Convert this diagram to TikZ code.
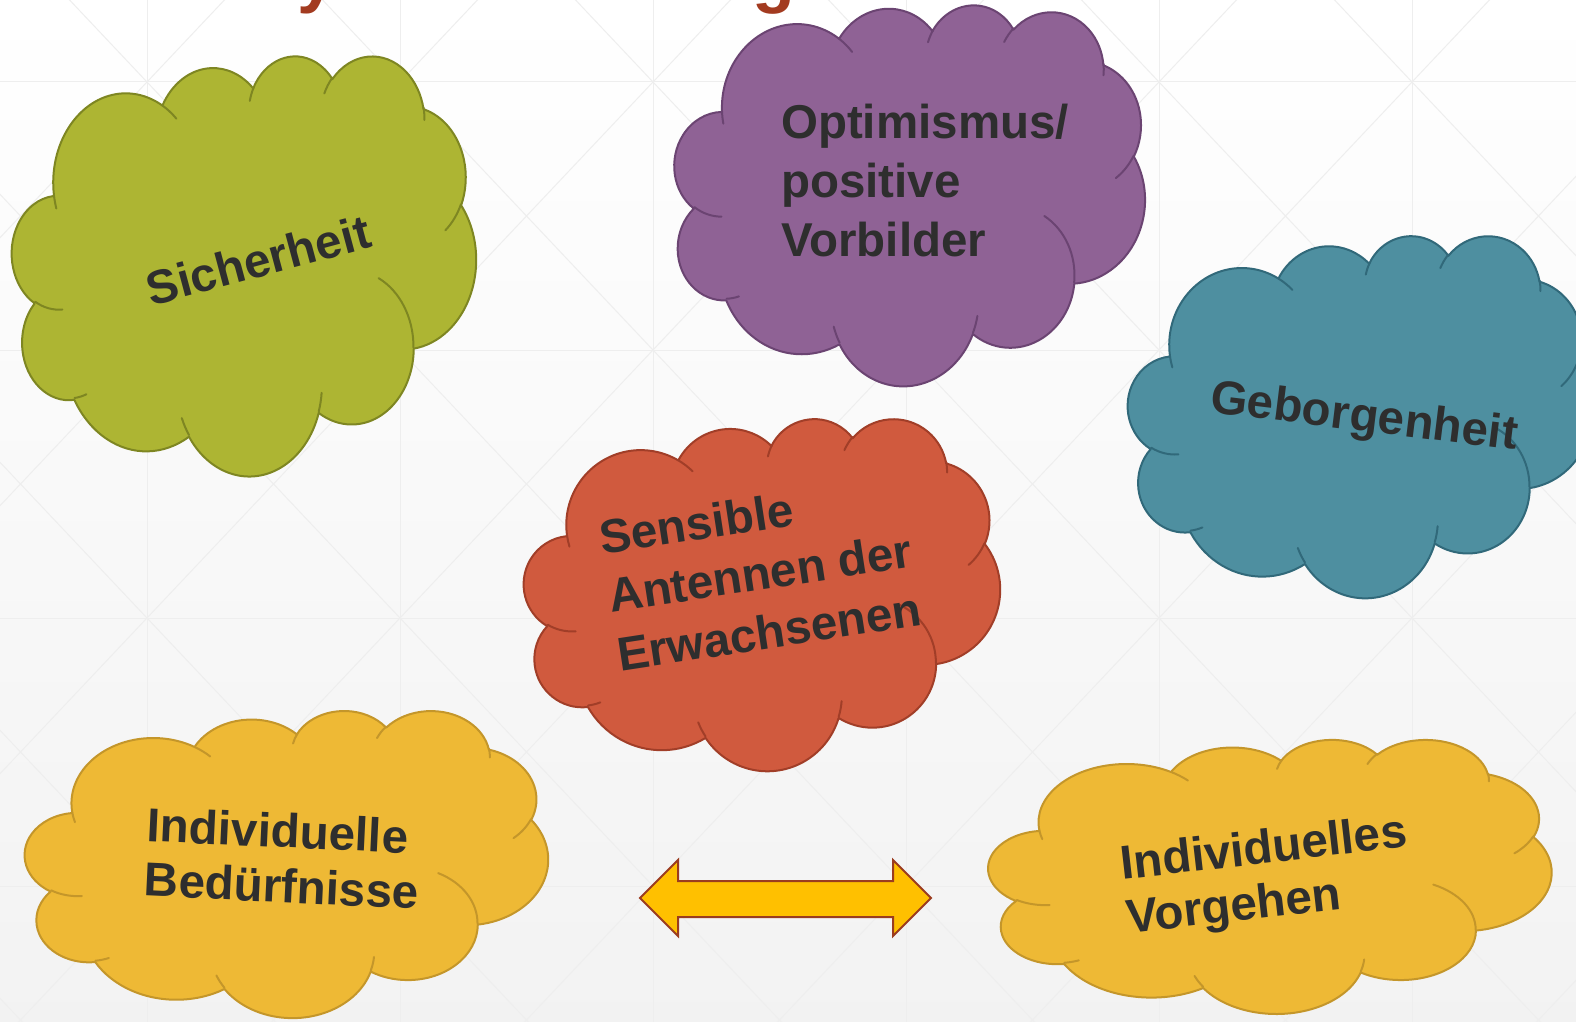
\documentclass[tikz,border=0pt]{standalone}
\usepackage{fontspec}
\setmainfont{Liberation Sans}
\definecolor{txtc}{HTML}{2E2E2E}
\definecolor{gridc}{HTML}{EEEEEE}
\definecolor{titc}{HTML}{A33B20}
\definecolor{grF}{HTML}{ADB533}\definecolor{grD}{HTML}{7E8622}
\definecolor{puF}{HTML}{8F6295}\definecolor{puD}{HTML}{6B4472}
\definecolor{teF}{HTML}{4E8FA0}\definecolor{teD}{HTML}{31697A}
\definecolor{reF}{HTML}{D05A3E}\definecolor{reD}{HTML}{A13E28}
\definecolor{yeF}{HTML}{EEB935}\definecolor{yeD}{HTML}{C4962A}
\definecolor{arF}{HTML}{FFC000}\definecolor{arD}{HTML}{9B3C1F}
% OOXML arcTo (visual angles) -> parametric angles
\newcommand\ooang[6]{%
  \pgfmathsetmacro#1{atan2((#3)*sin(#5),(#4)*cos(#5))}%
  \pgfmathsetmacro\ootmp{atan2((#3)*sin((#5)+(#6)),(#4)*cos((#5)+(#6)))}%
  \pgfmathsetmacro#2{#1+mod(\ootmp-(#1)+720,360)}%
}
\ooang\oAs\oAe{67.53}{91.90}{-190.4875}{123.7805}
\ooang\oBs\oBe{53.33}{72.67}{-144.1024}{89.9452}
\ooang\oCs\oCe{43.65}{59.45}{-145.8079}{99.7230}
\ooang\oDs\oDe{48.57}{65.95}{-130.9861}{117.2417}
\ooang\oEs\oEe{53.33}{72.73}{-78.7089}{109.0269}
\ooang\oFs\oFe{67.75}{92.20}{-46.2673}{130.2690}
\ooang\oGs\oGe{57.85}{78.67}{0.6250}{114.0333}
\ooang\oHs\oHe{67.52}{92.15}{22.4516}{115.1726}
\ooang\oIs\oIe{77.20}{105.43}{66.2426}{75.7110}
\ooang\oJs\oJe{43.60}{59.18}{-274.9421}{146.7356}
\ooang\oKs\oKe{43.45}{59.45}{-246.8285}{152.5189}
\ooang\iAs\iAe{43.45}{59.45}{86.7420}{26.4295}
\ooang\iBs\iBe{43.60}{59.18}{73.6105}{11.4475}
\ooang\iCs\iCe{67.52}{92.15}{137.6242}{14.0811}
\ooang\iDs\iDe{67.52}{92.15}{6.4533}{15.9984}
\ooang\iEs\iEe{57.85}{78.67}{-70.2924}{70.9174}
\ooang\iFs\iFe{53.33}{72.73}{30.3180}{27.7515}
\ooang\iGs\iGe{48.57}{65.95}{-13.7443}{14.8589}
\ooang\iHs\iHe{48.57}{65.95}{-149.1815}{18.1954}
\ooang\iIs\iIe{43.65}{59.45}{-163.4943}{17.6864}
\ooang\iJs\iJe{67.53}{91.90}{-66.7070}{12.3194}
\ooang\iKs\iKe{67.53}{91.90}{157.6544}{11.8582}
\def\cloudoutline{(39pt,143.7pt)
 arc[start angle=\oAs,end angle=\oAe,x radius=67.53pt,y radius=91.90pt]
 arc[start angle=\oBs,end angle=\oBe,x radius=53.33pt,y radius=72.67pt]
 arc[start angle=\oCs,end angle=\oCe,x radius=43.65pt,y radius=59.45pt]
 arc[start angle=\oDs,end angle=\oDe,x radius=48.57pt,y radius=65.95pt]
 arc[start angle=\oEs,end angle=\oEe,x radius=53.33pt,y radius=72.73pt]
 arc[start angle=\oFs,end angle=\oFe,x radius=67.75pt,y radius=92.20pt]
 arc[start angle=\oGs,end angle=\oGe,x radius=57.85pt,y radius=78.67pt]
 arc[start angle=\oHs,end angle=\oHe,x radius=67.52pt,y radius=92.15pt]
 arc[start angle=\oIs,end angle=\oIe,x radius=77.20pt,y radius=105.43pt]
 arc[start angle=\oJs,end angle=\oJe,x radius=43.60pt,y radius=59.18pt]
 arc[start angle=\oKs,end angle=\oKe,x radius=43.45pt,y radius=59.45pt]
 -- cycle}
\def\cloudinner{
 (46.93pt,261.77pt) arc[start angle=\iAs,end angle=\iAe,x radius=43.45pt,y radius=59.45pt]
 (69.28pt,348.99pt) arc[start angle=\iBs,end angle=\iBe,x radius=43.60pt,y radius=59.18pt]
 (164.78pt,390.90pt) arc[start angle=\iCs,end angle=\iCe,x radius=67.52pt,y radius=92.15pt]
 (288.27pt,347.51pt) arc[start angle=\iDs,end angle=\iDe,x radius=67.52pt,y radius=92.15pt]
 (341.29pt,229.54pt) arc[start angle=\iEs,end angle=\iEe,x radius=57.85pt,y radius=78.67pt]
 (417.98pt,153.54pt) arc[start angle=\iFs,end angle=\iFe,x radius=53.33pt,y radius=72.73pt]
 (383.24pt,54.26pt) arc[start angle=\iGs,end angle=\iGe,x radius=48.57pt,y radius=65.95pt]
 (290.78pt,39.52pt) arc[start angle=\iHs,end angle=\iHe,x radius=48.57pt,y radius=65.95pt]
 (221.41pt,47.20pt) arc[start angle=\iIs,end angle=\iIe,x radius=43.65pt,y radius=59.45pt]
 (140.00pt,51.92pt) arc[start angle=\iJs,end angle=\iJe,x radius=67.53pt,y radius=91.90pt]
 (41.27pt,157.89pt) arc[start angle=\iKs,end angle=\iKe,x radius=67.53pt,y radius=91.90pt]}
% #1 cx, #2 cy, #3 w, #4 h (px), #5 canvas rotation, #6 fill, #7 border
\newcommand\cloudshape[7]{%
  \begin{scope}[shift={(#1,#2)},rotate=#5,xscale=#3*0.5/432,yscale=-#4*0.5/432,shift={(-216pt,-216pt)}]
    \filldraw[fill=#6,draw=#7,line width=1pt,line join=round] \cloudoutline;
    \draw[#7,line width=1pt,line cap=round] \cloudinner;
  \end{scope}}
\tikzset{
  lbl/.style={font=\bfseries\fontsize{23.75}{29.5}\selectfont,text=txtc,inner sep=0pt,align=left},
  gridln/.style={draw=gridc,line width=0.5pt},
  tit/.style={font=\bfseries\fontsize{35}{40}\selectfont,text=titc,inner sep=0pt,anchor=base west}
}
\begin{document}
\begin{tikzpicture}[x=0.5pt,y=-0.5pt]
\useasboundingbox (0,0) rectangle (1576,1022);
\clip (0,0) rectangle (1576,1022);
\shade[top color=white,bottom color=black!5] (0,0) rectangle (1576,1022);
% faint background grid
\foreach \y in {82,350,618,886} \draw[gridln] (0,\y) -- (1576,\y);
\foreach \x in {147,400,653,906,1159,1412} \draw[gridln] (\x,0) -- (\x,1022);
\foreach \i in {-1,...,6}{\foreach \j in {-1,...,3}{
  \draw[gridln] (147+253*\i,82+268*\j) -- (400+253*\i,350+268*\j);
  \draw[gridln] (400+253*\i,82+268*\j) -- (147+253*\i,350+268*\j);}}
% cut-off title
\node[tit] (ty) at (297,0) {y};
\node[tit] (tg) at (752,0) {g};
% clouds
\cloudshape{244}{265}{464}{420}{0}{grF}{grD}
\cloudshape{909}{192}{472}{386}{-5}{puF}{puD}
\cloudshape{1360}{416}{464}{362}{0}{teF}{teD}
\cloudshape{762}{594}{476}{352}{0}{reF}{reD}
\cloudshape{286.5}{863.5}{523}{307}{0}{yeF}{yeD}
\cloudshape{1270}{876}{563}{274}{0}{yeF}{yeD}
% labels
\node[lbl,rotate=15] (sich) at (258,260) {Sicherheit};
\node[lbl] (opt) at (925,181) {Optimismus/\\positive\\Vorbilder};
\node[lbl,rotate=-7] (gebo) at (1364,419) {Geborgenheit};
\node[lbl,rotate=8.7] (sens) at (760,573) {Sensible\\Antennen der\\Erwachsenen};
\node[lbl,rotate=-2.7,font=\bfseries\fontsize{23.75}{27.5}\selectfont] (bed) at (283,858) {Individuelle\\Bedürfnisse};
\node[lbl,rotate=6.5,font=\bfseries\fontsize{23.75}{27}\selectfont] (vorg) at (1267,878) {Individuelles\\Vorgehen};
% double arrow
\filldraw[fill=arF,draw=arD,line width=1pt,line join=miter]
  (640,898) -- (678,860) -- (678,881) -- (893,881) -- (893,860) -- (931,898)
  -- (893,936) -- (893,917) -- (678,917) -- (678,936) -- cycle;
\end{tikzpicture}
\end{document}
